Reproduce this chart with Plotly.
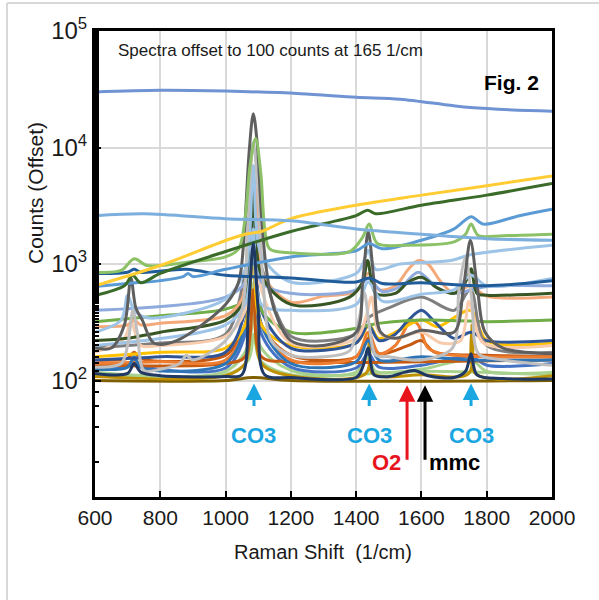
import plotly.graph_objects as go

# ---------------- data (Raman shift in 1/cm, counts offset) ----------------
x_s01 = [600, 800, 1000, 1230, 1400, 1535, 1750, 2000]
y_s01 = [30000, 31000, 30500, 29000, 27000, 26000, 22000, 20500]

x_s02 = [600, 750, 1000, 1200, 1400, 1600, 1800, 2000]
y_s02 = [2600, 2700, 2450, 2350, 2000, 1800, 1650, 1600]

x_s03 = [600, 800, 1000, 1060, 1085, 1110, 1200, 1400, 1600, 1800, 2000]
y_s03 = [650, 970, 1590, 1800, 1850, 1900, 2450, 3200, 3900, 4700, 5700]

x_s04 = [600, 690, 715, 740, 800, 1000, 1200, 1400, 1435, 1460, 1600, 1800, 2000]
y_s04 = [537, 650, 800, 690, 830, 1280, 1900, 2600, 2900, 2700, 3200, 3900, 4900]

x_s05 = [600, 700, 800, 870, 885, 900, 1000, 1200, 1400, 1440, 1480, 1600, 1700, 1752, 1790, 1900, 2000]
y_s05 = [640, 680, 720, 780, 830, 780, 900, 1150, 1300, 1500, 1350, 1600, 2000, 2550, 2200, 2600, 2950]

x_s06 = [600, 680, 720, 760, 900, 1000, 1040, 1060, 1075, 1092, 1108, 1120, 1135, 1200, 1380, 1420,
         1440, 1465, 1550, 1700, 1735, 1752, 1775, 1850, 2000]
y_s06 = [850, 880, 1110, 970, 1050, 1150, 1350, 2500, 7000, 12000, 6000, 2000, 1350, 1250, 1280, 1700,
         2200, 1500, 1450, 1550, 1800, 2200, 1750, 1750, 1800]

x_s07 = [600, 700, 720, 740, 880, 1000, 1200, 1400, 1440, 1480, 1600, 1800, 2000]
y_s07 = [830, 850, 900, 850, 900, 800, 760, 700, 760, 680, 690, 650, 720]

x_s08 = [600, 650, 690, 710, 725, 745, 780, 850, 1000, 1040, 1058, 1072, 1085, 1098, 1110, 1125, 1150,
         1200, 1300, 1400, 1420, 1437, 1455, 1475, 1520, 1600, 1700, 1728, 1750, 1772, 1795, 1850, 2000]
y_s08 = [190, 190, 300, 760, 420, 330, 210, 220, 450, 700, 2000, 9000, 19500, 10000, 2600, 900, 400,
         220, 200, 260, 700, 1900, 700, 260, 230, 270, 260, 600, 1600, 600, 260, 190, 170]

x_s09 = [600, 680, 700, 716, 730, 750, 800, 860, 880, 900, 1000, 1050, 1068, 1085, 1100, 1115, 1140,
         1200, 1300, 1380, 1410, 1425, 1440, 1460, 1500, 1600, 1695, 1715, 1735, 1755, 1775, 1850, 2000]
y_s09 = [130, 140, 200, 400, 250, 122, 125, 140, 165, 150, 220, 400, 2500, 11000, 4000, 700, 220,
         165, 160, 180, 350, 570, 300, 165, 160, 150, 190, 600, 1130, 480, 170, 150, 135]

x_s10 = [600, 700, 720, 740, 800, 1000, 1050, 1068, 1085, 1100, 1115, 1200, 1300, 1400, 1437, 1470,
         1520, 1560, 1590, 1620, 1660, 1700, 1750, 1800, 2000]
y_s10 = [290, 300, 330, 300, 310, 360, 500, 1500, 5500, 2500, 800, 470, 530, 580, 830, 600,
         650, 900, 1070, 1000, 700, 560, 650, 530, 520]

x_s11 = [600, 690, 710, 740, 800, 1000, 1060, 1085, 1110, 1200, 1400, 1430, 1447, 1470, 1520, 1600,
         1660, 1720, 1745, 1760, 1790, 2000]
y_s11 = [175, 230, 320, 200, 200, 240, 400, 3000, 600, 210, 230, 350, 520, 260, 230, 260,
         210, 220, 480, 350, 210, 200]

x_s12 = [600, 800, 1000, 1060, 1085, 1110, 1200, 1400, 1440, 1600, 1800, 2000]
y_s12 = [320, 360, 410, 500, 1500, 400, 260, 280, 300, 330, 320, 330]

x_s13 = [600, 700, 800, 1000, 1060, 1085, 1110, 1200, 1380, 1420, 1435, 1460, 1520, 1560, 1600, 1650,
         1700, 1735, 1752, 1770, 1800, 2000]
y_s13 = [220, 230, 260, 330, 500, 5000, 800, 450, 520, 700, 1070, 560, 560, 700, 770, 620,
         560, 700, 910, 560, 540, 560]

x_s14 = [600, 700, 800, 1000, 1085, 1200, 1400, 1440, 1500, 1600, 1700, 1750, 1800, 2000]
y_s14 = [190, 200, 210, 250, 1200, 240, 250, 350, 420, 520, 400, 600, 200, 175]

x_s15 = [600, 800, 1000, 1060, 1085, 1110, 1200, 1400, 1437, 1470, 1520, 1560, 1600, 1640, 1700,
         1752, 1800, 2000]
y_s15 = [150, 160, 175, 400, 3500, 400, 190, 210, 300, 220, 250, 330, 400, 320, 230,
         260, 220, 220]

x_s16 = [600, 800, 1000, 1060, 1085, 1110, 1200, 1400, 1437, 1470, 1520, 1570, 1590, 1620, 1660,
         1700, 1800, 2000]
y_s16 = [140, 145, 150, 300, 2500, 300, 150, 160, 260, 170, 200, 330, 300, 190, 170,
         165, 160, 160]

x_s17 = [600, 1000, 1060, 1085, 1110, 1200, 1600, 2000]
y_s17 = [135, 140, 160, 600, 160, 145, 145, 150]

x_s18 = [600, 700, 720, 740, 800, 1000, 1050, 1070, 1085, 1100, 1120, 1200, 1400, 1420, 1437, 1455,
         1500, 1550, 1580, 1620, 1700, 1735, 1752, 1770, 1850, 2000]
y_s18 = [115, 115, 140, 118, 110, 108, 112, 400, 1500, 400, 112, 106, 106, 130, 190, 112,
         108, 118, 122, 110, 106, 120, 170, 112, 104, 103]

x_s19 = [600, 1000, 1085, 1200, 2000]
y_s19 = [100, 100, 106, 100, 100]

x_s20 = [600, 1000, 1060, 1085, 1110, 1200, 1430, 1440, 1450, 1600, 1745, 1755, 1765, 2000]
y_s20 = [108, 110, 140, 500, 140, 110, 115, 250, 115, 112, 115, 300, 115, 110]

x_s21 = [600, 1000, 1070, 1087, 1105, 1200, 1600, 2000]
y_s21 = [110, 112, 150, 250, 150, 112, 120, 112]

x_s22 = [600, 700, 720, 740, 1000, 1060, 1085, 1110, 1200, 1400, 1437, 1470, 1600, 1750, 2000]
y_s22 = [125, 130, 160, 130, 140, 300, 2000, 300, 140, 145, 220, 150, 160, 150, 150]

x_s23 = [600, 800, 1000, 1060, 1085, 1110, 1200, 1400, 1440, 1470, 1600, 1650, 1750, 1800, 2000]
y_s23 = [160, 175, 190, 300, 2000, 300, 200, 210, 300, 230, 330, 290, 400, 220, 210]

x_s24 = [600, 1000, 1060, 1085, 1110, 1200, 1400, 1437, 1480, 1540, 1590, 1650, 1700, 1800, 2000]
y_s24 = [400, 520, 700, 3000, 700, 560, 600, 750, 580, 650, 850, 620, 560, 640, 650]

x_s25 = [600, 680, 700, 720, 760, 1000, 1060, 1085, 1110, 1200, 1400, 1420, 1437, 1460, 1535,
         1690, 1750, 2000]
y_s25 = [260, 330, 540, 400, 345, 500, 900, 7000, 1200, 700, 830, 1000, 1310, 900, 1000,
         1070, 1200, 1450]

x_s26 = [600, 1000, 1060, 1085, 1110, 1200, 1400, 1437, 1480, 1600, 1700, 1752, 1800, 2000]
y_s26 = [200, 300, 450, 2000, 450, 400, 450, 700, 480, 550, 600, 800, 650, 750]

x_s27 = [600, 700, 720, 740, 1000, 1060, 1085, 1110, 1200, 1400, 1437, 1470, 1560, 1600, 1640, 1800, 2000]
y_s27 = [150, 155, 175, 155, 165, 300, 1500, 300, 165, 160, 230, 170, 200, 220, 175, 165, 160]

x_s28 = [600, 1000, 1070, 1087, 1105, 1200, 1400, 1437, 1460, 1600, 1752, 1800, 2000]
y_s28 = [118, 120, 200, 700, 200, 122, 118, 160, 120, 125, 150, 120, 118]

x_s29 = [600, 700, 720, 740, 1000, 1060, 1085, 1110, 1200, 1400, 1437, 1470, 1600, 1752, 1800, 2000]
y_s29 = [130, 135, 150, 135, 128, 250, 1800, 250, 130, 128, 170, 130, 135, 160, 135, 140]

# draw order: first = bottom
series = [
    (x_s19, y_s19, "#7F6000"), (x_s21, y_s21, "#A9D18E"), (x_s20, y_s20, "#BF9000"),
    (x_s28, y_s28, "#A9D18E"), (x_s29, y_s29, "#4472C4"), (x_s27, y_s27, "#C65911"),
    (x_s17, y_s17, "#C55A11"), (x_s16, y_s16, "#ED7D31"), (x_s22, y_s22, "#2E75B6"),
    (x_s23, y_s23, "#FFC000"), (x_s15, y_s15, "#2F5597"), (x_s12, y_s12, "#70AD47"),
    (x_s14, y_s14, "#7F7F7F"), (x_s11, y_s11, "#F8CBAD"), (x_s10, y_s10, "#F4A97A"),
    (x_s24, y_s24, "#8FAADC"), (x_s13, y_s13, "#375623"), (x_s26, y_s26, "#9DC3E6"),
    (x_s25, y_s25, "#9DC3E6"), (x_s09, y_s09, "#BFBFBF"), (x_s08, y_s08, "#5F5F5F"),
    (x_s07, y_s07, "#1F5C99"), (x_s05, y_s05, "#5B9BD5"), (x_s06, y_s06, "#8CC168"),
    (x_s04, y_s04, "#3B6B29"), (x_s03, y_s03, "#FFCD33"), (x_s02, y_s02, "#7CAFDD"),
    (x_s01, y_s01, "#6F93D3"), (x_s18, y_s18, "#1F3864"),
]

fig = go.Figure()
for xs, ys, col in series:
    fig.add_trace(go.Scatter(x=xs, y=ys, mode="lines",
                             line=dict(color=col, width=3, shape="spline", smoothing=0.9),
                             showlegend=False, hoverinfo="skip"))

font_family = "Arial, Liberation Sans, sans-serif"
fig.update_layout(
    width=599, height=600,
    margin=dict(l=95, r=47, t=31, b=103),
    paper_bgcolor="white", plot_bgcolor="white",
    font=dict(family=font_family, color="#1a1a1a"),
    showlegend=False,
)
fig.update_xaxes(
    range=[600, 2000], dtick=200, tick0=600,
    showgrid=True, gridcolor="#D9D9D9", gridwidth=2,
    showline=True, linecolor="black", linewidth=3, mirror=True,
    ticks="inside", ticklen=6, tickwidth=2, tickcolor="black",
    tickfont=dict(size=21, family=font_family, color="#1a1a1a"),
    zeroline=False,
)
fig.update_yaxes(
    type="log", range=[1, 5],
    tickvals=[10, 100, 1000, 10000, 100000],
    ticktext=["", "10<sup>2</sup>", "10<sup>3</sup>", "10<sup>4</sup>", "10<sup>5</sup>"],
    showgrid=True, gridcolor="#D9D9D9", gridwidth=2,
    showline=True, linecolor="black", linewidth=3, mirror=True,
    ticks="inside", ticklen=6, tickwidth=2, tickcolor="black",
    minor=dict(ticks="inside", ticklen=4, tickwidth=2, tickcolor="black", showgrid=False),
    tickfont=dict(size=24, family=font_family, color="#1a1a1a"),
    zeroline=False,
)

def px_x(p):
    return (p - 95) / 457

def px_y(p):
    return (497 - p) / 466

cyan = "#1AA6E0"
red = "#E8141C"
annotations = [
    dict(text="Spectra offset to 100 counts at 165 1/cm", x=px_x(116), y=px_y(50), xref="paper", yref="paper",
         xanchor="left", yanchor="middle", showarrow=False, font=dict(size=17, color="#1a1a1a")),
    dict(text="<b>Fig. 2</b>", x=px_x(541), y=px_y(82), xref="paper", yref="paper",
         xanchor="right", yanchor="middle", showarrow=False, font=dict(size=21, color="black")),
    dict(text="Counts (Offset)", x=px_x(35), y=px_y(193), xref="paper", yref="paper", textangle=-90,
         xanchor="center", yanchor="middle", showarrow=False, font=dict(size=21, color="#1a1a1a")),
    dict(text="Raman Shift  (1/cm)", x=px_x(323), y=px_y(552), xref="paper", yref="paper",
         xanchor="center", yanchor="middle", showarrow=False, font=dict(size=20, color="#1a1a1a")),
]
co3_x = [1087, 1440, 1752]
for cx in co3_x:
    annotations.append(dict(x=cx, y=1.975, xref="x", yref="y", ax=0, ay=24, text="",
                            showarrow=True, arrowhead=2, arrowsize=1.1, arrowwidth=3, arrowcolor=cyan))
    annotations.append(dict(x=cx, y=px_y(435), xref="x", yref="paper", text="<b>CO3</b>",
                            showarrow=False, font=dict(size=22, color=cyan), yanchor="middle"))
annotations.append(dict(x=1556, y=1.96, xref="x", yref="y", ax=0, ay=76, text="",
                        showarrow=True, arrowhead=2, arrowsize=1.1, arrowwidth=3, arrowcolor=red))
annotations.append(dict(x=1611, y=1.96, xref="x", yref="y", ax=0, ay=76, text="",
                        showarrow=True, arrowhead=2, arrowsize=1.1, arrowwidth=3, arrowcolor="black"))
annotations.append(dict(x=1545, y=px_y(462), xref="x", yref="paper", text="<b>O2</b>",
                        showarrow=False, font=dict(size=22, color=red), xanchor="right", yanchor="middle"))
annotations.append(dict(x=1618, y=px_y(462), xref="x", yref="paper", text="<b>mmc</b>",
                        showarrow=False, font=dict(size=22, color="black"), xanchor="left", yanchor="middle"))
fig.update_layout(annotations=annotations)

# light outer frame (top and left)
fig.add_shape(type="line", xref="paper", yref="paper", x0=px_x(7), x1=px_x(600),
              y0=px_y(3), y1=px_y(3), line=dict(color="#D9D9D9", width=2))
fig.add_shape(type="line", xref="paper", yref="paper", x0=px_x(7), x1=px_x(7),
              y0=px_y(3), y1=px_y(601), line=dict(color="#D9D9D9", width=2))

fig.write_html("out.html", config={"displayModeBar": False},
               post_script="document.body.style.margin='0px';")
